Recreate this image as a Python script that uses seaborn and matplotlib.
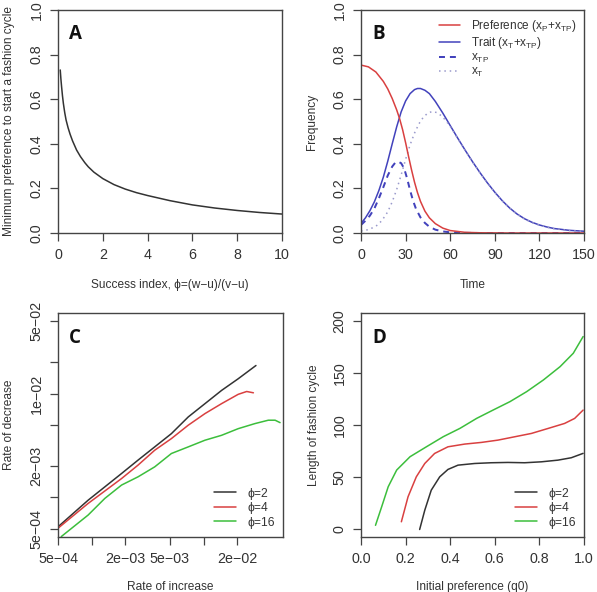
import matplotlib
matplotlib.use("Agg")
import matplotlib.pyplot as plt
from matplotlib.ticker import FixedLocator, NullLocator
import seaborn as sns

# -----------------------------
# DATA
# -----------------------------
# A: minimum preference vs success index
phi_a = [0.1, 0.13, 0.16, 0.2, 0.24, 0.3, 0.36, 0.45, 0.54, 0.65, 0.83, 1.0, 1.2, 1.35,
         1.6, 2.0, 2.5, 3.0, 3.5, 4.0, 5.0, 6.0, 7.0, 8.0, 9.0, 10.0]
minpref_a = [0.731, 0.69, 0.656, 0.615, 0.581, 0.54, 0.507, 0.472, 0.443, 0.413, 0.372,
             0.343, 0.315, 0.297, 0.273, 0.244, 0.217, 0.197, 0.181, 0.168, 0.145, 0.126,
             0.112, 0.101, 0.092, 0.085]

# B: frequencies over time
t_pref = [0, 5, 10, 15, 18, 21, 24, 26, 28, 30, 32, 34, 36, 38, 40, 43, 46, 50, 55, 60,
          70, 80, 100, 150]
pref_b = [0.753, 0.745, 0.722, 0.680, 0.646, 0.603, 0.552, 0.512, 0.463, 0.405, 0.343,
          0.283, 0.228, 0.181, 0.142, 0.098, 0.068, 0.042, 0.022, 0.011, 0.003, 0.001, 0.0, 0.0]
t_trait = [0, 3, 6, 9, 12, 15, 18, 21, 24, 27, 30, 33, 36, 38, 40, 43, 46, 50, 55, 60, 65,
           70, 75, 80, 85, 90, 95, 100, 105, 110, 115, 120, 125, 130, 140, 150]
trait_b = [0.043, 0.068, 0.100, 0.140, 0.190, 0.250, 0.322, 0.400, 0.476, 0.543, 0.592,
           0.625, 0.643, 0.648, 0.648, 0.640, 0.625, 0.590, 0.538, 0.482, 0.426, 0.372,
           0.320, 0.271, 0.225, 0.183, 0.145, 0.112, 0.085, 0.064, 0.048, 0.036, 0.027,
           0.020, 0.012, 0.008]
t_tp = [0, 3, 6, 9, 12, 15, 18, 21, 23, 25, 27, 29, 31, 33, 35, 37, 40, 43, 46, 50, 55,
        60, 70, 80, 150]
xtp_b = [0.036, 0.055, 0.078, 0.110, 0.155, 0.205, 0.258, 0.298, 0.315, 0.320, 0.313,
         0.290, 0.245, 0.192, 0.145, 0.108, 0.070, 0.045, 0.028, 0.015, 0.007, 0.003,
         0.0005, 0.0, 0.0]
t_t = [0, 5, 10, 14, 18, 21, 24, 27, 30, 33, 36, 39, 42, 45, 48, 51, 54, 57, 60, 65, 70,
       75, 80, 85, 90, 95, 100, 105, 110, 115, 120, 125, 130, 140, 150]
xt_b = [0.009, 0.015, 0.030, 0.055, 0.095, 0.140, 0.195, 0.260, 0.330, 0.395, 0.448,
        0.490, 0.520, 0.538, 0.545, 0.540, 0.526, 0.505, 0.478, 0.425, 0.371, 0.319,
        0.270, 0.224, 0.182, 0.144, 0.111, 0.084, 0.063, 0.047, 0.035, 0.026, 0.019,
        0.011, 0.007]

# C: rate of decrease vs rate of increase (log-log)
inc_phi2 = [5.0e-4, 9.3e-4, 1.85e-3, 2.6e-3, 3.66e-3, 5.16e-3, 7.3e-3, 1.03e-2, 1.45e-2, 2.04e-2, 2.94e-2]
dec_phi2 = [5.2e-4, 9.4e-4, 1.70e-3, 2.29e-3, 3.07e-3, 4.12e-3, 5.97e-3, 8.02e-3, 1.076e-2, 1.393e-2, 1.87e-2]
inc_phi4 = [5.0e-4, 9.3e-4, 1.85e-3, 2.6e-3, 3.66e-3, 5.16e-3, 7.3e-3, 1.03e-2, 1.45e-2, 2.04e-2, 2.43e-2, 2.79e-2]
dec_phi4 = [5.04e-4, 8.75e-4, 1.52e-3, 2.05e-3, 2.85e-3, 3.69e-3, 4.97e-3, 6.43e-3, 8.02e-3, 9.86e-3, 1.05e-2, 1.02e-2]
inc_phi16 = [5.35e-4, 9.3e-4, 1.31e-3, 1.85e-3, 2.6e-3, 3.66e-3, 5.16e-3, 7.3e-3, 1.03e-2, 1.45e-2,
             2.04e-2, 2.88e-2, 3.79e-2, 4.36e-2, 4.83e-2]
dec_phi16 = [4.19e-4, 6.76e-4, 9.77e-4, 1.315e-3, 1.58e-3, 1.97e-3, 2.65e-3, 3.07e-3, 3.56e-3, 3.97e-3,
             4.60e-3, 5.15e-3, 5.55e-3, 5.55e-3, 5.26e-3]

# D: length of fashion cycle vs initial preference
q0_phi2 = [0.263, 0.286, 0.315, 0.353, 0.390, 0.435, 0.510, 0.584, 0.659, 0.734, 0.809, 0.883, 0.943, 0.996]
len_phi2 = [0, 18.5, 37.7, 50.5, 57.6, 61.7, 63.3, 64.0, 64.3, 64.0, 64.9, 66.5, 68.8, 73.0]
q0_phi4 = [0.181, 0.211, 0.248, 0.286, 0.330, 0.390, 0.465, 0.540, 0.614, 0.689, 0.764, 0.839, 0.913, 0.958, 0.996]
len_phi4 = [7.4, 31.4, 50.5, 63.3, 72.9, 79.3, 81.9, 83.5, 85.7, 88.9, 92.1, 96.9, 101.7, 106.5, 114.5]
q0_phi16 = [0.065, 0.0927, 0.122, 0.160, 0.220, 0.294, 0.369, 0.444, 0.519, 0.593, 0.668, 0.743,
            0.818, 0.893, 0.952, 0.996]
len_phi16 = [4.0, 21.8, 41.0, 57.0, 69.8, 79.4, 89.0, 97.0, 106.6, 114.6, 122.6, 132.2, 143.4,
             156.2, 169.0, 185.0]

phi_labels = ["ϕ=2", "ϕ=4", "ϕ=16"]

# -----------------------------
# STYLE
# -----------------------------
sns.set_style("ticks")
plt.rcParams["font.family"] = ["Liberation Sans", "DejaVu Sans"]
plt.rcParams["mathtext.fontset"] = "custom"
plt.rcParams["mathtext.rm"] = "Liberation Sans"
plt.rcParams["axes.edgecolor"] = "#444444"
plt.rcParams["axes.linewidth"] = 1.0

RED = "#D94040"
BLUE = "#4242BC"
GREEN = "#3CBE3C"
BLACK = "#333333"
LIGHTBLUE = "#9A9ACC"
LW = 1.1

W, H = 597, 592
fig = plt.figure(figsize=(W / 100, H / 100), dpi=100)


def make_ax(left, top, w, h):
    return fig.add_axes([left / W, 1 - (top + h) / H, w / W, h / H])


def style_ax(ax, letter):
    for s in ax.spines.values():
        s.set_visible(True)
        s.set_color("#444444")
    ax.tick_params(axis="both", direction="out", length=5.5, width=0.9,
                   color="#444444", labelsize=10.3, pad=5, labelcolor="#333333")
    ax.tick_params(axis="y", labelrotation=90)
    for lab in ax.get_yticklabels():
        lab.set_va("center")
    ax.text(0.05, 0.935, letter, transform=ax.transAxes, fontsize=13.5,
            fontweight="bold", family=["Open Sans", "DejaVu Sans"], va="top", ha="left",
            color="#111111")


def set_labels(ax, xlabel, ylabel, xpos=-0.232, ypos=-0.218):
    ax.set_xlabel(xlabel, fontsize=8.6, color="#333333")
    ax.set_ylabel(ylabel, fontsize=8.6, color="#333333")
    ax.xaxis.set_label_coords(0.5, xpos)
    ax.yaxis.set_label_coords(ypos, 0.5)
    ax.xaxis.label.set_va("center")
    ax.yaxis.label.set_va("center")


# -----------------------------
# A
# -----------------------------
axA = make_ax(58, 10, 224, 223)
sns.lineplot(x=phi_a, y=minpref_a, ax=axA, color=BLACK, linewidth=LW,
             estimator=None, sort=False)
axA.set_xlim(0, 10)
axA.set_ylim(0, 1)
axA.set_xticks([0, 2, 4, 6, 8, 10])
axA.set_yticks([0, 0.2, 0.4, 0.6, 0.8, 1.0])
axA.set_yticklabels(["0.0", "0.2", "0.4", "0.6", "0.8", "1.0"])
style_ax(axA, "A")
set_labels(axA, "Success index, ϕ=(w−u)/(v−u)", "Minimum preference to start a fashion cycle")

# -----------------------------
# B
# -----------------------------
axB = make_ax(361, 10, 223, 223)
sns.lineplot(x=t_trait, y=trait_b, ax=axB, color=BLUE, linewidth=LW, estimator=None, sort=False)
sns.lineplot(x=t_tp, y=xtp_b, ax=axB, color=BLUE, linewidth=LW * 1.3, estimator=None,
             sort=False, linestyle=(0, (3, 2.5)))
sns.lineplot(x=t_t, y=xt_b, ax=axB, color=LIGHTBLUE, linewidth=LW, estimator=None,
             sort=False, linestyle=(0, (1, 2.5)))
sns.lineplot(x=t_pref, y=pref_b, ax=axB, color=RED, linewidth=LW, estimator=None, sort=False)
lines = axB.get_lines()
axB.legend([lines[3], lines[0], lines[1], lines[2]],
           [r"Preference ($\mathrm{x_P}$+$\mathrm{x_{TP}}$)",
            r"Trait ($\mathrm{x_T}$+$\mathrm{x_{TP}}$)",
            r"$\mathrm{x_{TP}}$", r"$\mathrm{x_T}$"],
           loc="upper right", frameon=False, fontsize=8.5, handlelength=1.8,
           handletextpad=0.9, labelspacing=0.1, borderaxespad=0.25,
           labelcolor="#333333")
axB.set_xlim(0, 150)
axB.set_ylim(0, 1)
axB.set_xticks([0, 30, 60, 90, 120, 150])
axB.set_yticks([0, 0.2, 0.4, 0.6, 0.8, 1.0])
axB.set_yticklabels(["0.0", "0.2", "0.4", "0.6", "0.8", "1.0"])
style_ax(axB, "B")
set_labels(axB, "Time", "Frequency", ypos=-0.22)

# -----------------------------
# C
# -----------------------------
axC = make_ax(58, 313, 225, 224)
for xs, ys, col in [(inc_phi2, dec_phi2, BLACK), (inc_phi4, dec_phi4, RED),
                    (inc_phi16, dec_phi16, GREEN)]:
    sns.lineplot(x=xs, y=ys, ax=axC, color=col, linewidth=LW, estimator=None, sort=False)
axC.set_xscale("log")
axC.set_yscale("log")
axC.set_xlim(5e-4, 5.13e-2)
axC.set_ylim(4.15e-4, 6.0e-2)
xt_c = [5e-4, 1e-3, 2e-3, 5e-3, 1e-2, 2e-2]
xl_c = ["5e−04", "", "2e−03", "5e−03", "", "2e−02"]
yt_c = [5e-4, 1e-3, 2e-3, 5e-3, 1e-2, 2e-2, 5e-2]
yl_c = ["5e−04", "", "2e−03", "", "1e−02", "", "5e−02"]
axC.xaxis.set_major_locator(FixedLocator(xt_c))
axC.yaxis.set_major_locator(FixedLocator(yt_c))
axC.xaxis.set_minor_locator(NullLocator())
axC.yaxis.set_minor_locator(NullLocator())
axC.set_xticklabels(xl_c)
axC.set_yticklabels(yl_c)
axC.legend(axC.get_lines()[:3], phi_labels, loc="lower right", frameon=False,
           fontsize=8.7, handlelength=1.8, handletextpad=0.9, labelspacing=0.2,
           borderaxespad=0.3, labelcolor="#333333")
style_ax(axC, "C")
set_labels(axC, "Rate of increase", "Rate of decrease", xpos=-0.223)

# -----------------------------
# D
# -----------------------------
axD = make_ax(361, 313, 223, 224)
for xs, ys, col in [(q0_phi2, len_phi2, BLACK), (q0_phi4, len_phi4, RED),
                    (q0_phi16, len_phi16, GREEN)]:
    sns.lineplot(x=xs, y=ys, ax=axD, color=col, linewidth=LW, estimator=None, sort=False)
axD.set_xlim(0, 1)
axD.set_ylim(-7.2, 207.6)
axD.set_xticks([0, 0.2, 0.4, 0.6, 0.8, 1.0])
axD.set_xticklabels(["0.0", "0.2", "0.4", "0.6", "0.8", "1.0"])
axD.set_yticks([0, 50, 100, 150, 200])
axD.legend(axD.get_lines()[:3], phi_labels, loc="lower right", frameon=False,
           fontsize=8.7, handlelength=1.8, handletextpad=0.9, labelspacing=0.2,
           borderaxespad=0.3, labelcolor="#333333")
style_ax(axD, "D")
set_labels(axD, "Initial preference (q0)", "Length of fashion cycle", xpos=-0.223, ypos=-0.212)

fig.savefig("out.png", dpi=100)
plt.close(fig)
